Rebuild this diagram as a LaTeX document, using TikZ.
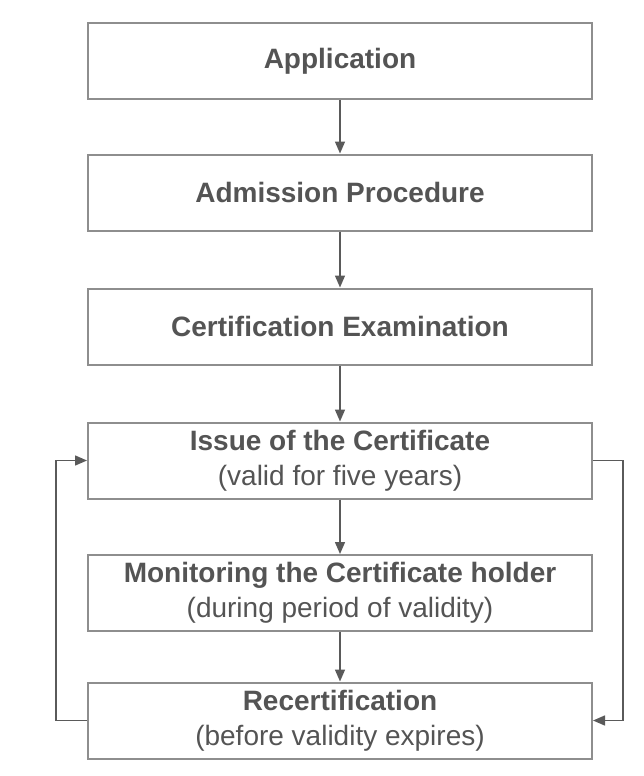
\documentclass[tikz,border=0pt]{standalone}
\usepackage{fontspec}
\setmainfont{Liberation Sans}
\usetikzlibrary{arrows.meta}
\definecolor{txtgray}{HTML}{545454}
\definecolor{framegray}{HTML}{8E8E8E}
\definecolor{linkgray}{HTML}{5A5A5A}

\begin{document}
\begin{tikzpicture}[x=1pt,y=-1pt,
  box/.style={draw=framegray,line width=2pt,minimum width=504pt,minimum height=76pt,
    inner sep=0pt,align=center,text=txtgray,font=\fontsize{28}{35}\selectfont},
  link/.style={draw=linkgray,line width=1.5pt,-{Triangle[length=12pt,width=10pt]}}]
\useasboundingbox (0,0) rectangle (643,776);

\node[box] (app) at (340,61) {\textbf{Application}};
\node[box] (adm) at (340,192.5) {\textbf{Admission Procedure}};
\node[box] (exam) at (340,326.5) {\textbf{Certification Examination}};
\node[box] (issue) at (340,460.5) {\textbf{Issue of the Certificate}\\(valid for five years)};
\node[box] (monit) at (340,593) {\textbf{Monitoring the Certificate holder}\\(during period of validity)};
\node[box] (recert) at (340,720.5) {\textbf{Recertification}\\(before validity expires)};

\coordinate (lefttop) at (56,460.5);
\coordinate (leftbot) at (56,720.5);
\coordinate (righttop) at (623,460.5);
\coordinate (rightbot) at (623,720.5);

\draw[link] (app) -- (adm);
\draw[link] (adm) -- (exam);
\draw[link] (exam) -- (issue);
\draw[link] (issue) -- (monit);
\draw[link] (monit) -- (recert);

% loop back on both sides
\draw[link] (recert.west) -- (leftbot) -- (lefttop) -- (issue.west);
\draw[link] (issue.east) -- (righttop) -- (rightbot) -- (recert.east);
\end{tikzpicture}
\end{document}
